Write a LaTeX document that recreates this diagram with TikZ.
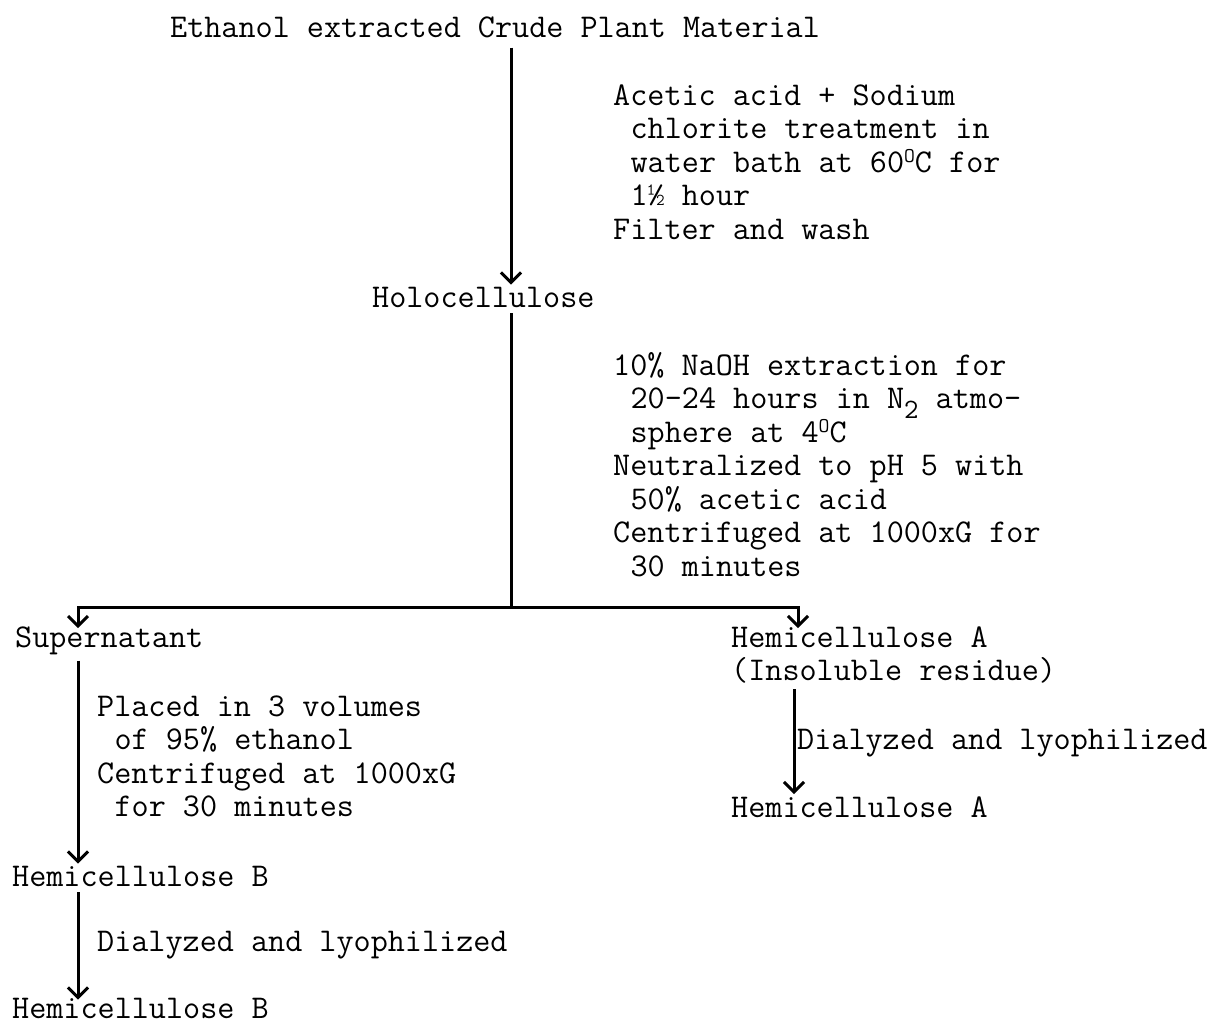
\documentclass[tikz,border=0pt]{standalone}
\usepackage{fontspec}
\usetikzlibrary{arrows.meta}
\newcommand{\degO}{\raisebox{0.28em}{\fontsize{21}{21}\selectfont O}}
\newcommand{\subtwo}{\raisebox{-0.3em}{\fontsize{28}{28}\selectfont 2}}
\newcommand{\ind}{\hspace*{0.525em}}
\newcommand{\tline}[1]{\hbox{#1}}
\tikzset{
  txt/.style={anchor=base west, inner sep=0pt,
    font=\ttfamily\fontsize{33.2}{33.5}\selectfont\addfontfeature{FakeBold=1.5}},
  conn/.style={line width=3pt, line cap=butt},
  arr/.style={conn, -{Straight Barb[length=10pt,width=20pt,line width=3pt]}}
}
\begin{document}
\begin{tikzpicture}[x=1pt,y=-1pt]
\useasboundingbox (0,0) rectangle (1213,1023);
\node[txt] (crude) at (170,37) {Ethanol extracted Crude Plant Material};
\node[txt] (s1) at (613,105) {\vtop{\tline{Acetic acid + Sodium}\tline{\ind chlorite treatment in}\tline{\ind water bath at 60\degO C for}\tline{\ind 1½ hour}\tline{Filter and wash}}};
\node[txt] (holo) at (372,307) {Holocellulose};
\node[txt] (s2) at (613,375) {\vtop{\tline{10\% NaOH extraction for}\tline{\ind 20-24 hours in N\subtwo{} atmo-}\tline{\ind sphere at 4\degO C}\tline{Neutralized to pH 5 with}\tline{\ind 50\% acetic acid}\tline{Centrifuged at 1000xG for}\tline{\ind 30 minutes}}};
\node[txt] (sup) at (15,647) {Supernatant};
\node[txt] (hemA1) at (731,647) {\vtop{\tline{Hemicellulose A}\tline{(Insoluble residue)}}};
\node[txt] (s3) at (97,716) {\vtop{\tline{Placed in 3 volumes}\tline{\ind of 95\% ethanol}\tline{Centrifuged at 1000xG}\tline{\ind for 30 minutes}}};
\node[txt] (s4) at (797,749) {Dialyzed and lyophilized};
\node[txt] (hemA2) at (731,817) {Hemicellulose A};
\node[txt] (hemB1) at (12,886) {Hemicellulose B};
\node[txt] (s5) at (97,951) {Dialyzed and lyophilized};
\node[txt] (hemB2) at (12,1018) {Hemicellulose B};

\coordinate (xm) at (511,0);
\coordinate (xl) at (78,0);
\coordinate (xr) at (798,0);
\coordinate (xa) at (794,0);
\coordinate (split) at (511,607);

\draw[arr] ([yshift=-10pt]crude.south -| xm) -- ([yshift=2pt]holo.north -| xm);
\draw[conn] ([yshift=-6pt]holo.south -| xm) -- (split);
\draw[arr] (split) -| ([yshift=-2pt]sup.north -| xl);
\draw[arr] (split) -| ([yshift=-2pt]hemA1.north -| xr);
\draw[arr] ([yshift=-6pt]sup.south -| xl) -- ([yshift=2pt]hemB1.north -| xl);
\draw[arr] ([yshift=-6pt]hemB1.south -| xl) -- ([yshift=-2pt]hemB2.north -| xl);
\draw[arr] ([yshift=-6pt]hemA1.south -| xa) -- ([yshift=2pt]hemA2.north -| xa);
\end{tikzpicture}
\end{document}
